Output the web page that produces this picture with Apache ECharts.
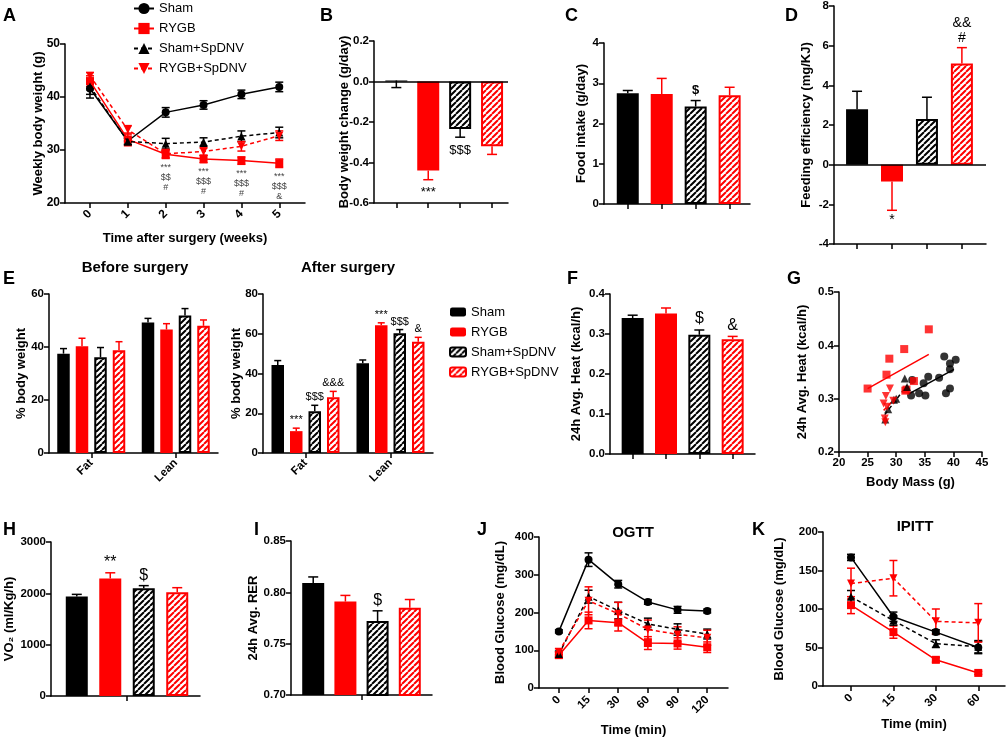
<!DOCTYPE html>
<html><head><meta charset="utf-8">
<script src="https://cdn.jsdelivr.net/npm/echarts@6/dist/echarts.min.js"></script>
<style>html,body{margin:0;padding:0;background:#fff}#c{width:1008px;height:740px}</style>
</head><body><div id="c"></div>
<script>
// ---------------- DATA ----------------
const groups = ['Sham','RYGB','Sham+SpDNV','RYGB+SpDNV'];
// A: weekly body weight
const weeks = ['0','1','2','3','4','5'];
const aSham = [41.6, 31.7, 37.1, 38.5, 40.5, 41.9];
const aShamErr = [1.8, 0.6, 0.9, 0.8, 0.8, 0.9];
const aRygb = [43.0, 32.0, 29.2, 28.3, 28.0, 27.5];
const aRygbErr = [1.0, 1.2, 0.8, 0.7, 0.7, 0.8];
const aShamDnv = [42.0, 31.6, 31.2, 31.5, 32.6, 33.3];
const aShamDnvErr = [1.5, 0.6, 1.0, 0.8, 1.0, 1.0];
const aRygbDnv = [44.0, 33.8, 29.3, 29.7, 30.7, 32.7];
const aRygbDnvErr = [0.6, 0.8, 0.8, 0.7, 0.9, 0.9];
const aNotes = ['', '', '***\n$$\n#', '***\n$$$\n#', '***\n$$$\n#', '***\n$$$\n&'];
// B: body weight change (g/day); errors are signed (drawn to value+err)
const bVal = [0.005, -0.44, -0.235, -0.32];
const bErr = [-0.035, -0.045, -0.04, -0.04];
const bNotes = ['', '***', '$$$', ''];
// C: food intake
const cVal = [2.75, 2.73, 2.42, 2.70];
const cErr = [0.07, 0.39, 0.15, 0.20];
const cNotes = ['', '', '$', ''];
// D: feeding efficiency
const dVal = [2.8, -0.85, 2.3, 5.1];
const dErr = [0.9, -1.45, 1.1, 0.8];
const dNotes = ['', '*', '', '&&\n#'];
// E: body composition
const eCats = ['Fat','Lean'];
const eBeforeFat = [37.5, 40.3, 36.1, 38.8];
const eBeforeFatErr = [1.9, 3.0, 3.7, 3.2];
const eBeforeLean = [49.2, 46.6, 51.9, 48.0];
const eBeforeLeanErr = [1.6, 2.2, 2.6, 2.2];
const eAfterFat = [44.3, 11.0, 21.0, 28.0];
const eAfterFatErr = [2.2, 1.5, 3.0, 3.0];
const eAfterLean = [45.2, 64.3, 60.3, 56.0];
const eAfterLeanErr = [1.6, 1.2, 1.8, 2.2];
const eAfterFatNotes = ['', '***', '$$$', '&&&'];
const eAfterLeanNotes = ['', '***', '$$$', '&'];
// F: 24h heat
const fVal = [0.340, 0.351, 0.298, 0.287];
const fErr = [0.007, 0.014, 0.012, 0.007];
const fNotes = ['', '', '$', '&'];
// G: heat vs body mass
const gShamMass = [32.8, 32.6, 34.0, 35.1, 34.8, 35.6, 37.5, 38.4, 39.4, 40.4, 39.4, 38.7, 39.4];
const gShamHeat = [0.335, 0.306, 0.310, 0.306, 0.329, 0.341, 0.339, 0.379, 0.366, 0.373, 0.355, 0.310, 0.319];
const gRygbMass = [25.0, 28.3, 28.8, 31.4, 33.1, 31.8, 31.6, 35.7];
const gRygbHeat = [0.319, 0.345, 0.375, 0.393, 0.333, 0.317, 0.315, 0.430];
const gShamDnvMass = [28.1, 30.0, 31.5, 28.6, 31.9, 29.6];
const gShamDnvHeat = [0.261, 0.300, 0.338, 0.280, 0.322, 0.298];
const gRygbDnvMass = [28.1, 28.0, 27.8, 28.2, 28.9, 29.5, 28.4];
const gRygbDnvHeat = [0.256, 0.263, 0.291, 0.305, 0.319, 0.296, 0.285];
const gFitMass = [[32.2, 40.1], [25.0, 35.7], [28.0, 31.9], [27.8, 30.0]];
const gFitHeat = [[0.309, 0.355], [0.319, 0.383], [0.270, 0.325], [0.278, 0.302]];
// H: VO2
const hVal = [1940, 2290, 2100, 2020];
const hErr = [40, 110, 50, 90];
const hNotes = ['', '**', '$', ''];
// I: RER
const iVal = [0.809, 0.791, 0.772, 0.785];
const iErr = [0.006, 0.006, 0.010, 0.008];
const iNotes = ['', '', '$', ''];
// J: OGTT
const jTimes = ['0','15','30','60','90','120'];
const jSham = [150, 340, 275, 228, 207, 204];
const jShamErr = [4, 18, 10, 6, 9, 5];
const jRygb = [87, 179, 173, 119, 118, 108];
const jRygbErr = [8, 22, 22, 17, 15, 14];
const jShamDnv = [90, 242, 205, 170, 155, 143];
const jShamDnvErr = [8, 17, 22, 15, 15, 13];
const jRygbDnv = [96, 231, 197, 155, 142, 133];
const jRygbDnvErr = [8, 37, 30, 25, 20, 20];
// K: IPITT
const kTimes = ['0','15','30','60'];
const kSham = [167, 90, 70, 50];
const kShamErr = [4, 6, 3, 8];
const kRygb = [105, 70, 34, 17];
const kRygbErr = [11, 8, 3, 2];
const kShamDnv = [116, 85, 55, 51];
const kShamDnvErr = [8, 6, 5, 8];
const kRygbDnv = [133, 140, 84, 82];
const kRygbDnvErr = [20, 23, 16, 25];

// ---------------- STYLE / BUILD ----------------
const FF = '"Liberation Sans", Arial, Helvetica, sans-serif';
const colors = ['#000000', '#ff0000', '#000000', '#ff0000'];
function hatch(col) {
  const s = 6, c = document.createElement('canvas');
  c.width = c.height = s;
  const g = c.getContext('2d');
  g.fillStyle = '#fff'; g.fillRect(0, 0, s, s);
  g.strokeStyle = col; g.lineWidth = 2; g.beginPath();
  for (const k of [-s, 0, s]) { g.moveTo(k, s); g.lineTo(k + s, 0); }
  g.stroke();
  return { image: c, repeat: 'repeat' };
}
const barStyles = [
  { color: '#000000' },
  { color: '#ff0000' },
  { color: hatch('#000000'), borderColor: '#000000', borderWidth: 2 },
  { color: hatch('#ff0000'), borderColor: '#ff0000', borderWidth: 2 }
];
const lineStyles = [
  { symbol: 'circle', size: 8, color: '#000000', type: 'solid', rotate: 0 },
  { symbol: 'rect', size: 8, color: '#ff0000', type: 'solid', rotate: 0 },
  { symbol: 'triangle', size: 8, color: '#000000', type: [4, 3], rotate: 0 },
  { symbol: 'triangle', size: 8, color: '#ff0000', type: [4, 3], rotate: 180 }
];

function merge(a, b) {
  for (const k in b) {
    const bv = b[k];
    if (bv && typeof bv === 'object' && !Array.isArray(bv) &&
        a[k] && typeof a[k] === 'object' && !Array.isArray(a[k])) merge(a[k], bv);
    else a[k] = bv;
  }
  return a;
}
function baseAxis() {
  return {
    type: 'value', splitLine: { show: false },
    axisLine: { show: true, onZero: false, lineStyle: { color: '#000', width: 1.5 } },
    axisTick: { show: true, length: 5, lineStyle: { color: '#000', width: 1.5 } },
    axisLabel: { color: '#000', fontSize: 11.5, fontWeight: 'bold', fontFamily: FF, margin: 5 },
    nameLocation: 'middle', nameMoveOverlap: false,
    nameTextStyle: { color: '#000', fontSize: 13, fontWeight: 'bold', fontFamily: FF }
  };
}
const grids = [], xAxes = [], yAxes = [], series = [];
function panel(box, x, y) {
  grids.push({ left: box[0], top: box[1], width: box[2], height: box[3] });
  const gi = grids.length - 1;
  xAxes.push(merge(merge(baseAxis(), { gridIndex: gi }), x));
  yAxes.push(merge(merge(baseAxis(), { gridIndex: gi, nameRotate: 90 }), y));
  return gi;
}
function yv(min, max, interval, name, gap, dec) {
  return { min, max, interval, name, nameGap: gap,
    axisLabel: { formatter: v => dec == null ? String(Math.round(v * 1000) / 1000) : Number(v).toFixed(dec) } };
}
function xb(min, max, ticks) {
  return { min, max, axisLabel: { show: false, customValues: ticks }, axisTick: { customValues: ticks } };
}
function errSeries(gi, pts, cols, cap, two, dx) {
  series.push({
    type: 'custom', xAxisIndex: gi, yAxisIndex: gi, z: 2, silent: true,
    data: pts.map((p, i) => ({ value: p, itemStyle: { color: cols[i] } })),
    renderItem: (params, api) => {
      const x = api.value(0), v = api.value(1), e = api.value(2), c = api.visual('color');
      const t = api.coord([x, v + e]), b = api.coord([x, two ? v - e : v]);
      const st = { stroke: c, lineWidth: 1.5 };
      const ch = [
        { type: 'line', shape: { x1: t[0] + dx, y1: t[1], x2: b[0] + dx, y2: b[1] }, style: st },
        { type: 'line', shape: { x1: t[0] + dx - cap / 2, y1: t[1], x2: t[0] + dx + cap / 2, y2: t[1] }, style: st }
      ];
      if (two) ch.push({ type: 'line', shape: { x1: b[0] + dx - cap / 2, y1: b[1], x2: b[0] + dx + cap / 2, y2: b[1] }, style: st });
      return { type: 'group', children: ch };
    }
  });
}
function noteSeries(gi, pts, texts, o) {
  o = Object.assign({ size: 13, color: '#000', gap: 3, weight: 'normal', lh: null, below: null, dx: 0 }, o);
  series.push({
    type: 'custom', xAxisIndex: gi, yAxisIndex: gi, z: 6, silent: true, data: pts,
    renderItem: (params, api) => {
      const t = texts[params.dataIndex];
      if (!t) return null;
      const v = api.value(1), p = api.coord([api.value(0), v]);
      const below = o.below != null ? o.below : v < 0;
      return { type: 'text', x: p[0] + o.dx, y: below ? p[1] + o.gap : p[1] - o.gap,
        style: { text: t, fill: o.color, fontSize: o.size, fontFamily: FF, fontWeight: o.weight,
          align: 'center', verticalAlign: below ? 'top' : 'bottom', lineHeight: o.lh || Math.round(o.size * 1.1) } };
    }
  });
}
function barPanel(gi, vals, errs, notes, nopt, zero) {
  const s = { type: 'bar', xAxisIndex: gi, yAxisIndex: gi, barWidth: 22, z: 3,
    data: vals.map((v, i) => ({ value: [i, v], itemStyle: barStyles[i] })) };
  if (zero) s.markLine = { silent: true, symbol: ['none', 'none'], label: { show: false },
    lineStyle: { color: '#000', width: 1.5, type: 'solid' }, data: [{ yAxis: 0 }] };
  series.push(s);
  errSeries(gi, vals.map((v, i) => [i, v, errs[i]]), colors, 10, false, 0);
  noteSeries(gi, vals.map((v, i) => [i, v + errs[i]]), notes, nopt);
}
function linePanel(gi, arrs, errs, tag, cap) {
  arrs.forEach((arr, k) => {
    const s = lineStyles[k];
    series.push({ type: 'line', name: groups[k] + tag, xAxisIndex: gi, yAxisIndex: gi,
      data: arr.map((v, i) => [i, v]), symbol: s.symbol, symbolSize: s.size, symbolRotate: s.rotate,
      itemStyle: { color: s.color }, lineStyle: { color: s.color, width: 1.5, type: s.type }, z: 3 + k });
    errSeries(gi, arr.map((v, i) => [i, v, errs[k][i]]), arr.map(() => s.color), cap, true, 0);
  });
}
function ePanel(gi, fat, fatErr, lean, leanErr, fatNotes, leanNotes) {
  for (let k = 0; k < 4; k++) {
    series.push({ type: 'bar', name: groups[k] + '#E', xAxisIndex: gi, yAxisIndex: gi,
      barWidth: 12.5, barGap: '48%', itemStyle: barStyles[k], z: 3, data: [fat[k], lean[k]] });
    const dx = (k - 1.5) * 18.5;
    errSeries(gi, [[0, fat[k], fatErr[k]], [1, lean[k], leanErr[k]]], [colors[k], colors[k]], 7, false, dx);
    if (fatNotes) noteSeries(gi, [[0, fat[k] + fatErr[k]], [1, lean[k] + leanErr[k]]],
      [fatNotes[k], leanNotes[k]], { size: 11, dx, gap: 2 });
  }
}
const idx = n => Array.from({ length: n }, (_, i) => i);

// A
const gA = panel([65, 44, 240, 159],
  { min: -0.66, max: 5.68, name: 'Time after surgery (weeks)', nameGap: 29,
    axisLabel: { customValues: idx(6), formatter: v => weeks[Math.round(v)], rotate: 45, margin: 9, fontSize: 12 },
    axisTick: { customValues: idx(6) } },
  merge(yv(20, 50, 10, 'Weekly body weight (g)', 20.5), { axisLabel: { fontSize: 12 } }));
linePanel(gA, [aSham, aRygb, aShamDnv, aRygbDnv], [aShamErr, aRygbErr, aShamDnvErr, aRygbDnvErr], '#A', 8);
noteSeries(gA, aRygb.map((v, i) => [i, v - aRygbErr[i]]), aNotes, { size: 9, color: '#444', gap: 4, below: true, lh: 10 });

// B
const gB = panel([374, 41, 134, 162], xb(-0.7, 3.5, idx(4)),
  yv(-0.6, 0.2, 0.2, 'Body weight change (g/day)', 23.5, 1));
barPanel(gB, bVal, bErr, bNotes, { size: 13, gap: 6 }, true);

// C
const gC = panel([604, 43, 146, 161], xb(-0.7, 3.6, idx(4)),
  yv(0, 4, 1, 'Food intake (g/day)', 16.5));
barPanel(gC, cVal, cErr, cNotes, { size: 13, gap: 3, weight: 'bold' }, false);

// D
const gD = panel([834, 6, 152, 238], xb(-0.66, 3.69, idx(4)),
  yv(-4, 8, 2, 'Feeding efficiency (mg/KJ)', 21.5));
barPanel(gD, dVal, dErr, dNotes, { size: 14, gap: 2, lh: 15 }, true);

// E before
const gE1 = panel([49, 294, 169, 159],
  { type: 'category', data: eCats, axisTick: { alignWithLabel: true }, axisLabel: { rotate: 45, margin: 8 } },
  yv(0, 60, 20, '% body weight', 21.5));
ePanel(gE1, eBeforeFat, eBeforeFatErr, eBeforeLean, eBeforeLeanErr, null, null);
// E after
const gE2 = panel([263, 294, 170, 159],
  { type: 'category', data: eCats, axisTick: { alignWithLabel: true }, axisLabel: { rotate: 45, margin: 8 } },
  yv(0, 80, 20, '% body weight', 20.5));
ePanel(gE2, eAfterFat, eAfterFatErr, eAfterLean, eAfterLeanErr, eAfterFatNotes, eAfterLeanNotes);

// F
const gF = panel([610, 294, 145, 160], xb(-0.68, 3.67, idx(4)),
  yv(0, 0.4, 0.1, '24h Avg. Heat (kcal/h)', 27.5, 1));
barPanel(gF, fVal, fErr, fNotes, { size: 16, gap: 2 }, false);

// G
const gG = panel([839, 292, 143, 160],
  { min: 20, max: 45, interval: 5, name: 'Body Mass (g)', nameGap: 24 },
  yv(0.2, 0.5, 0.1, '24h Avg. Heat (kcal/h)', 30, 1));
[[gShamMass, gShamHeat], [gRygbMass, gRygbHeat], [gShamDnvMass, gShamDnvHeat], [gRygbDnvMass, gRygbDnvHeat]]
  .forEach(([mx, hy], k) => {
    const s = lineStyles[k];
    series.push({ type: 'scatter', name: groups[k] + '#G', xAxisIndex: gG, yAxisIndex: gG, z: 4,
      symbol: s.symbol, symbolSize: 8, symbolRotate: s.rotate, itemStyle: { color: s.color },
      data: mx.map((m, i) => [m, hy[i]]) });
    series.push({ type: 'line', xAxisIndex: gG, yAxisIndex: gG, symbol: 'none', z: 3,
      lineStyle: { color: s.color, width: 1.5, type: s.type },
      data: gFitMass[k].map((m, i) => [m, gFitHeat[k][i]]) });
  });

// H
const gH = panel([51, 542, 149, 154], xb(-0.77, 3.68, [1.5]),
  yv(0, 3000, 1000, 'VO\u2082 (ml/Kg/h)', 35.5));
barPanel(gH, hVal, hErr, hNotes, { size: 16, gap: 1 }, false);

// I
const gI = panel([291, 541, 141, 154], xb(-0.69, 3.69, [1.5]),
  yv(0.70, 0.85, 0.05, '24h Avg. RER', 31.5, 2));
barPanel(gI, iVal, iErr, iNotes, { size: 16, gap: 1 }, false);

// J
const gJ = panel([539, 537, 189, 151],
  { min: -0.67, max: 5.7, name: 'Time (min)', nameGap: 36,
    axisLabel: { customValues: idx(6), formatter: v => jTimes[Math.round(v)], rotate: 45, margin: 10 },
    axisTick: { customValues: idx(6) } },
  yv(0, 400, 100, 'Blood Glucose (mg/dL)', 32.5));
linePanel(gJ, [jSham, jRygb, jShamDnv, jRygbDnv], [jShamErr, jRygbErr, jShamDnvErr, jRygbDnvErr], '#J', 8);

// K
const gK = panel([823, 532, 182, 154],
  { min: -0.66, max: 3.63, name: 'Time (min)', nameGap: 32,
    axisLabel: { customValues: idx(4), formatter: v => kTimes[Math.round(v)], rotate: 45, margin: 10 },
    axisTick: { customValues: idx(4) } },
  yv(0, 200, 50, 'Blood Glucose (mg/dL)', 37.5));
linePanel(gK, [kSham, kRygb, kShamDnv, kRygbDnv], [kShamErr, kRygbErr, kShamDnvErr, kRygbDnvErr], '#K', 8);

const letters = [['A', 3, 7], ['B', 320, 7], ['C', 565, 7], ['D', 785, 7], ['E', 3, 270], ['F', 567, 270],
  ['G', 787, 270], ['H', 3, 521], ['I', 254, 521], ['J', 477, 521], ['K', 752, 521]];
const heads = [['Before surgery', 135, 268], ['After surgery', 348, 268], ['OGTT', 633, 533], ['IPITT', 915, 527]];
const graphic = letters.map(([t, x, y]) => ({ type: 'text', x, y, silent: true,
  style: { text: t, fill: '#000', font: 'bold 18px ' + FF, verticalAlign: 'top' } }))
  .concat(heads.map(([t, x, y]) => ({ type: 'text', x, y, silent: true,
  style: { text: t, fill: '#000', font: 'bold 15px ' + FF, align: 'center', verticalAlign: 'middle' } })));

const chart = echarts.init(document.getElementById('c'));
chart.setOption({
  animation: false, backgroundColor: '#fff',
  grid: grids, xAxis: xAxes, yAxis: yAxes, series, graphic,
  legend: [
    { data: groups.map(g => g + '#A'), orient: 'vertical', left: 128, top: -3, itemWidth: 20, itemHeight: 14,
      itemGap: 7, selectedMode: false, formatter: n => n.split('#')[0],
      textStyle: { fontSize: 13, fontFamily: FF, color: '#000' } },
    { data: groups.map(g => g + '#E'), orient: 'vertical', left: 444, top: 300, itemWidth: 16, itemHeight: 9,
      itemGap: 6, selectedMode: false, formatter: n => n.split('#')[0],
      textStyle: { fontSize: 13, fontFamily: FF, color: '#000', lineHeight: 14 } }
  ]
});
</script>
</body></html>
